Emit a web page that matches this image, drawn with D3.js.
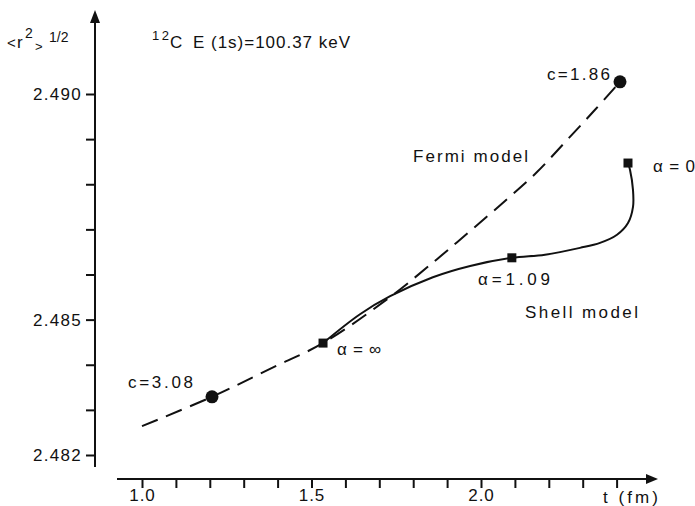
<!DOCTYPE html>
<html>
<head>
<meta charset="utf-8">
<script src="https://cdn.jsdelivr.net/npm/d3@7"></script>
<style>
  html, body { margin: 0; padding: 0; background: #fff; }
  svg { display: block; }
  text { font-family: "Liberation Sans", Arial, Helvetica, sans-serif; fill: #111; }
</style>
</head>
<body>
<svg id="chart" width="695" height="506"></svg>
<script>
// ---- data ----
const fermiT = [1.000, 1.2065, 1.3776, 1.5339, 1.7316, 1.8702, 1.9676, 2.0708, 2.1652, 2.2537, 2.3363, 2.4100];
const fermiR = [2.48264, 2.48329, 2.48391, 2.48448, 2.48550, 2.48634, 2.48696, 2.48763, 2.48827, 2.48898, 2.48965, 2.49027];

const shellT = [1.534, 1.643, 1.732, 1.858, 1.968, 2.091, 2.1888, 2.2920, 2.3510, 2.4012, 2.4336, 2.4484, 2.4484, 2.4395, 2.4336];
const shellR = [2.48448, 2.48512, 2.48552, 2.48594, 2.48619, 2.48637, 2.48644, 2.48659, 2.48670, 2.48688, 2.48714, 2.48750, 2.48787, 2.48832, 2.48847];

const fermiMarkT = [1.2065, 2.4100];
const fermiMarkR = [2.48329, 2.49027];
const fermiMarkLabels = ["c=3.08", "c=1.86"];

const shellMarkT = [1.534, 2.091, 2.4336];
const shellMarkR = [2.48448, 2.48637, 2.48847];
const shellMarkLabels = ["\u03B1=\u221E", "\u03B1=1.09", "\u03B1=0"];

const xTicks = [1.0, 1.1, 1.2, 1.3, 1.4, 1.5, 1.6, 1.7, 1.8, 1.9, 2.0, 2.1, 2.2, 2.3, 2.4];
const xTickLabels = ["1.0", "1.5", "2.0"];
const yTicks = [2.482, 2.483, 2.484, 2.485, 2.486, 2.487, 2.488, 2.489, 2.490];
const yTickLabels = ["2.482", "2.485", "2.490"];

// ---- scales ----
const x = d3.scaleLinear().domain([1.0, 2.0]).range([142, 481]);
const y = d3.scaleLinear().domain([2.482, 2.490]).range([455, 94]);

const svg = d3.select("#chart");

// ---- axes ----
const axisY0 = 95, axisX0 = 479;
const xAxis = d3.axisBottom(x).tickValues(xTicks).tickSize(9).tickSizeOuter(0)
  .tickFormat(d => { const s = d3.format(".1f")(d); return xTickLabels.includes(s) ? s : ""; });
const gx = svg.append("g").attr("transform", `translate(0,${axisX0})`).call(xAxis);
gx.select(".domain").remove();
gx.selectAll(".tick line").attr("stroke", "#111").attr("stroke-width", 2);
gx.selectAll(".tick text").attr("font-size", 17).attr("dy", "0.55em").attr("y", 13)
  .attr("letter-spacing", 1).style("font-family", "'Liberation Sans', Arial, sans-serif").attr("fill", "#111");
svg.append("line").attr("x1", 117).attr("x2", 648).attr("y1", axisX0).attr("y2", axisX0)
  .attr("stroke", "#111").attr("stroke-width", 2);
svg.append("path").attr("d", `M658,${axisX0} L646,${axisX0-5} L646,${axisX0+5} Z`).attr("fill", "#111");

const yAxis = d3.axisLeft(y).tickValues(yTicks).tickSize(9).tickSizeOuter(0)
  .tickFormat(d => { const s = d3.format(".3f")(d); return yTickLabels.includes(s) ? s : ""; });
const gy = svg.append("g").attr("transform", `translate(${axisY0},0)`).call(yAxis);
gy.select(".domain").remove();
gy.selectAll(".tick line").attr("stroke", "#111").attr("stroke-width", 2);
gy.selectAll(".tick text").attr("font-size", 17).attr("x", -13).attr("letter-spacing", 1.3)
  .style("font-family", "'Liberation Sans', Arial, sans-serif").attr("fill", "#111");
svg.append("line").attr("x1", axisY0).attr("x2", axisY0).attr("y1", 20).attr("y2", 467)
  .attr("stroke", "#111").attr("stroke-width", 2);
svg.append("path").attr("d", `M${axisY0},10 L${axisY0-5},23 L${axisY0+5},23 Z`).attr("fill", "#111");

// ---- curves ----
const fermiLine = d3.line().x((d, i) => x(fermiT[i])).y((d, i) => y(fermiR[i])).curve(d3.curveCatmullRom.alpha(0.5));
svg.append("path").datum(fermiT).attr("d", fermiLine).attr("fill", "none")
  .attr("stroke", "#111").attr("stroke-width", 2).attr("stroke-dasharray", "17,9");

const shellLine = d3.line().x((d, i) => x(shellT[i])).y((d, i) => y(shellR[i])).curve(d3.curveCatmullRom.alpha(0.5));
svg.append("path").datum(shellT).attr("d", shellLine).attr("fill", "none")
  .attr("stroke", "#111").attr("stroke-width", 2);

// ---- markers ----
svg.selectAll("circle.fm").data(fermiMarkT).enter().append("circle").attr("class", "fm")
  .attr("cx", (d) => x(d)).attr("cy", (d, i) => y(fermiMarkR[i])).attr("r", 6.5).attr("fill", "#111");
svg.selectAll("rect.sm").data(shellMarkT).enter().append("rect").attr("class", "sm")
  .attr("x", d => x(d) - 4.5).attr("y", (d, i) => y(shellMarkR[i]) - 4.5)
  .attr("width", 9).attr("height", 9).attr("fill", "#111");

// ---- annotations ----
function label(txt, px, py, len, size) {
  const t = svg.append("text").attr("x", px).attr("y", py).attr("font-size", size || 17).text(txt);
  if (len) t.attr("textLength", len).attr("lengthAdjust", "spacing");
  return t;
}
// marker labels
label(fermiMarkLabels[0], 128, 388, 65);
label(fermiMarkLabels[1], 547, 80, 63);
label(shellMarkLabels[0], 337, 355, 44);
label(shellMarkLabels[1], 478, 285, 72);
label(shellMarkLabels[2], 653, 172, 42);
// model names
label("Fermi model", 413, 162, 115);
label("Shell model", 525, 318, 113);
// axis title t (fm)
label("t (fm)", 603, 503, 55);
// 12C E(1s)
label("12", 152, 40, 17, 13);
label("C", 170, 48, null, 17);
label("E (1s)=100.37 keV", 193, 48, 157);
// y-axis title <r^2>^1/2
label("<", 7, 48, null, 15);
label("r", 17, 48, null, 17);
label("2", 25, 38, null, 14);
label(">", 35, 51, null, 13);
label("1/2", 49, 42, null, 14);
</script>
</body>
</html>
